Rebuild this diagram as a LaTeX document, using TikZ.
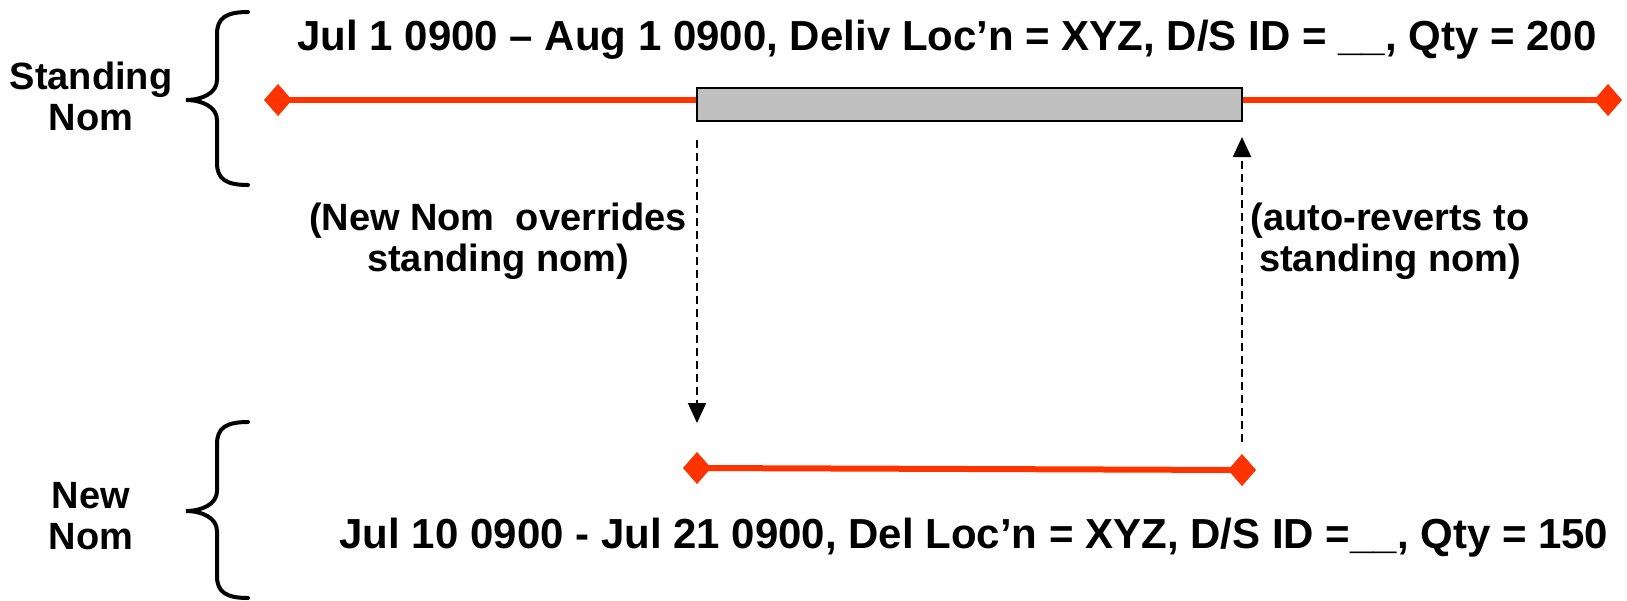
\documentclass[tikz,border=0pt]{standalone}
\usepackage{fontspec}
\setmainfont{Liberation Sans}
\usetikzlibrary{shapes.geometric,arrows.meta}

\definecolor{nomred}{RGB}{255,51,0}
\definecolor{bargray}{RGB}{192,192,192}

\begin{document}
\begin{tikzpicture}[x=0.5pt,y=0.5pt,yscale=-1,xscale=1,
    endpt/.style={diamond,fill=nomred,inner sep=0pt,minimum width=14pt,minimum height=16pt},
    nomline/.style={color=nomred,line width=3pt},
    bar/.style={draw=black,fill=bargray,line width=0.75pt,inner sep=0pt,minimum width=272.5pt,minimum height=16.5pt},
    brace/.style={line width=2pt,line cap=round},
    jump/.style={dashed,line width=1pt,dash pattern=on 4pt off 2.5pt,-{Triangle[length=10pt,width=9pt]}},
    lbl/.style={font=\bfseries\fontsize{19}{20.5}\selectfont,inner sep=0pt,align=center},
    head/.style={font=\bfseries\fontsize{21}{24}\selectfont,inner sep=0pt}]
        \useasboundingbox (0,0) rectangle (1627,600);

        %Brace: standing nom
        \draw [brace] (248,12) .. controls (226,12) and (217,18) .. (217,34) -- (217,80) .. controls (217,93) and (202,100) .. (186,100) .. controls (202,100) and (217,107) .. (217,120) -- (217,163) .. controls (217,179) and (226,185) .. (248,185) ;
        %Brace: new nom
        \draw [brace] (248,422) .. controls (226,422) and (217,428) .. (217,444) -- (217,491) .. controls (217,504) and (202,511) .. (186,511) .. controls (202,511) and (217,518) .. (217,531) -- (217,576) .. controls (217,592) and (226,598) .. (248,598) ;

        %Standing nom line
        \node [endpt] (s0) at (278,100) {};
        \node [endpt] (s1) at (1608,100) {};
        \node [bar] (gap) at (969.5,104.5) {};
        \draw [nomline] (s0.center) -- (s0.center -| gap.west) ;
        \draw [nomline] (s1.center -| gap.east) -- (s1.center) ;
        \node [endpt] at (s0) {};
        \node [endpt] at (s1) {};

        %New nom line
        \node [endpt] (n0) at (697,468) {};
        \node [endpt] (n1) at (1242,470) {};
        \draw [nomline] (n0.center) -- (n1.center) ;
        \node [endpt] at (n0) {};
        \node [endpt] at (n1) {};

        %Dashed arrows
        \coordinate (d0) at (697,140);
        \coordinate (d1) at (697,423);
        \coordinate (u0) at (1242,442);
        \coordinate (u1) at (1242,137);
        \draw [jump] (d0) -- (d1) ;
        \draw [jump] (u0) -- (u1) ;

        % Text Node
        \node [lbl] (sname) at (91,96) {Standing\\Nom};
        % Text Node
        \node [lbl] (nname) at (91,516) {New\\Nom};
        % Text Node
        \node [head] (stext) at (947,40) {Jul 1 0900 – Aug 1 0900, Deliv Loc’n = XYZ, D/S ID = \_\_, Qty = 200};
        % Text Node
        \node [head] (ntext) at (974,538) {Jul 10 0900 - Jul 21 0900, Del Loc’n = XYZ, D/S ID =\_\_, Qty = 150};
        % Text Node
        \node [lbl] (over) at (498,241) {(New Nom\ \ overrides\\standing nom)};
        % Text Node
        \node [lbl] (back) at (1390,241) {(auto-reverts to\\standing nom)};

    \end{tikzpicture}
\end{document}
